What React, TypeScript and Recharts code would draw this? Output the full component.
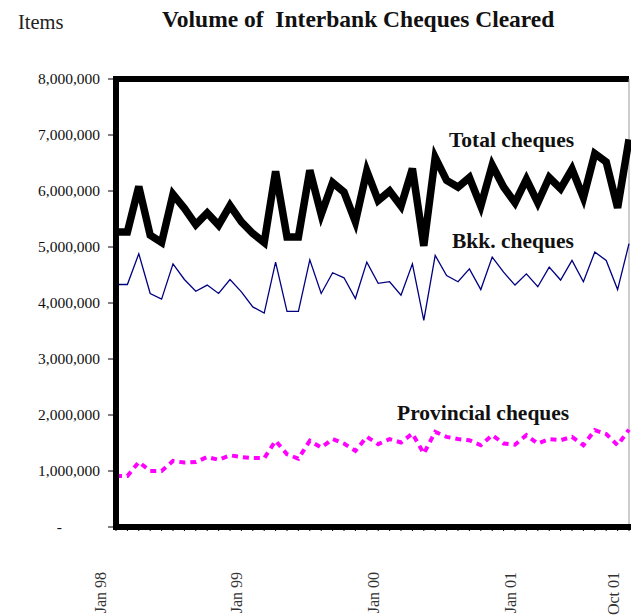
import { LineChart, Line, XAxis, YAxis, ReferenceLine } from 'recharts'

// monthly volumes, millions of items, Jan 98 .. Oct 01
const monthNames = ['Jan', 'Feb', 'Mar', 'Apr', 'May', 'Jun', 'Jul', 'Aug', 'Sep', 'Oct', 'Nov', 'Dec']
const years = ['98', '99', '00', '01']
const shownLabels = ['Jan 98', 'Jan 99', 'Jan 00', 'Jan 01', 'Oct 01']
const yTicks = [0, 1, 2, 3, 4, 5, 6, 7, 8]

const totalCheques = [
  5.27, 5.27, 6.08, 5.21, 5.08, 5.94, 5.69, 5.4, 5.61, 5.39, 5.74, 5.45,
  5.24, 5.08, 6.35, 5.18, 5.18, 6.37, 5.58, 6.15, 5.98, 5.45, 6.36, 5.83,
  6.0, 5.73, 6.4, 5.02, 6.6, 6.19, 6.07, 6.24, 5.73, 6.46, 6.07, 5.79,
  6.21, 5.79, 6.24, 6.04, 6.39, 5.88, 6.67, 6.52, 5.7, 6.92,
]
const bkkCheques = [
  4.33, 4.33, 4.88, 4.17, 4.07, 4.7, 4.42, 4.21, 4.32, 4.17, 4.42, 4.2,
  3.93, 3.82, 4.73, 3.85, 3.85, 4.77, 4.17, 4.54, 4.45, 4.08, 4.73, 4.35,
  4.38, 4.14, 4.7, 3.69, 4.85, 4.49, 4.38, 4.61, 4.24, 4.82, 4.55, 4.32,
  4.52, 4.29, 4.64, 4.41, 4.76, 4.38, 4.91, 4.76, 4.24, 5.06,
]
const provincialCheques = [
  0.91, 0.91, 1.16, 1.0, 1.0, 1.18, 1.15, 1.16, 1.25, 1.2, 1.28, 1.25,
  1.23, 1.23, 1.54, 1.3, 1.22, 1.54, 1.42, 1.57, 1.49, 1.36, 1.61, 1.48,
  1.57, 1.51, 1.67, 1.31, 1.7, 1.61, 1.57, 1.55, 1.46, 1.64, 1.49, 1.47,
  1.64, 1.49, 1.57, 1.55, 1.61, 1.46, 1.73, 1.66, 1.46, 1.74,
]

const months = years.flatMap((y) => monthNames.map((m) => `${m} ${y}`)).slice(0, totalCheques.length)

const data = months.map((month, i) => ({
  month,
  total: totalCheques[i],
  bkk: bkkCheques[i],
  provincial: provincialCheques[i],
}))

const serif = '"Liberation Serif", "Times New Roman", serif'

function YTick({ x, y, payload }: any) {
  const v = payload.value
  if (v === 0) {
    return (
      <text x={x - 38} y={y} dy="0.35em" textAnchor="end" fontFamily={serif} fontSize={15.5} fill="#111">
        -
      </text>
    )
  }
  return (
    <text x={x} y={y} dy="0.35em" textAnchor="end" fontFamily={serif} fontSize={15.5} fill="#111">
      {(v * 1000000).toLocaleString('en-US')}
    </text>
  )
}

function MonthTick({ x, y, payload }: any) {
  if (!shownLabels.includes(payload.value)) return <g />
  const lx = x - 16
  return (
    <text
      x={lx}
      y={y}
      dy="0.35em"
      textAnchor="end"
      transform={`rotate(-90 ${lx} ${y})`}
      fontFamily={serif}
      fontSize={16}
      fill="#333"
    >
      {payload.value}
    </text>
  )
}

export default function App() {
  return (
    <div style={{ position: 'absolute', left: 0, top: 0, width: 631, height: 615, overflow: 'hidden', background: '#fff' }}>
      <LineChart width={631} height={615} data={data} margin={{ top: 79, right: 2, bottom: 0, left: 0 }}>
        <XAxis
          dataKey="month"
          interval={0}
          height={88}
          tickSize={4}
          tickMargin={41}
          tickLine={{ stroke: '#000' }}
          axisLine={{ stroke: '#000', strokeWidth: 6, strokeLinecap: 'square' }}
          tick={<MonthTick />}
        />
        <YAxis
          width={116}
          domain={[0, 8]}
          ticks={yTicks}
          interval={0}
          tickSize={8}
          tickMargin={8}
          tickLine={{ stroke: '#000' }}
          axisLine={{ stroke: '#000', strokeWidth: 6, strokeLinecap: 'square' }}
          tick={<YTick />}
        />
        <ReferenceLine y={8} stroke="#000" strokeWidth={6} />
        <ReferenceLine x={months[months.length - 1]} stroke="#999" strokeWidth={1} />
        <Line
          type="linear"
          dataKey="provincial"
          stroke="#ff00ff"
          strokeWidth={4}
          strokeDasharray="6 5"
          dot={false}
          isAnimationActive={false}
        />
        <Line type="linear" dataKey="bkk" stroke="#000080" strokeWidth={1.3} dot={false} isAnimationActive={false} />
        <Line type="linear" dataKey="total" stroke="#000" strokeWidth={7.5} dot={false} isAnimationActive={false} />
      </LineChart>
      <svg width={631} height={615} style={{ position: 'absolute', left: 0, top: 0, pointerEvents: 'none' }}>
        <text x={18} y={29} fontFamily={serif} fontSize={20.5} fill="#222">
          Items
        </text>
        <text x={162} y={27} fontFamily={serif} fontSize={23.5} fontWeight="bold" fill="#111" style={{ whiteSpace: 'pre' }}>
          {'Volume of  Interbank Cheques Cleared'}
        </text>
        <text x={449} y={147} fontFamily={serif} fontSize={21.5} fontWeight="bold" fill="#111">
          Total cheques
        </text>
        <text x={452} y={248} fontFamily={serif} fontSize={21.5} fontWeight="bold" fill="#111">
          Bkk. cheques
        </text>
        <text x={397} y={420} fontFamily={serif} fontSize={21.5} fontWeight="bold" fill="#111">
          Provincial cheques
        </text>
      </svg>
    </div>
  )
}
